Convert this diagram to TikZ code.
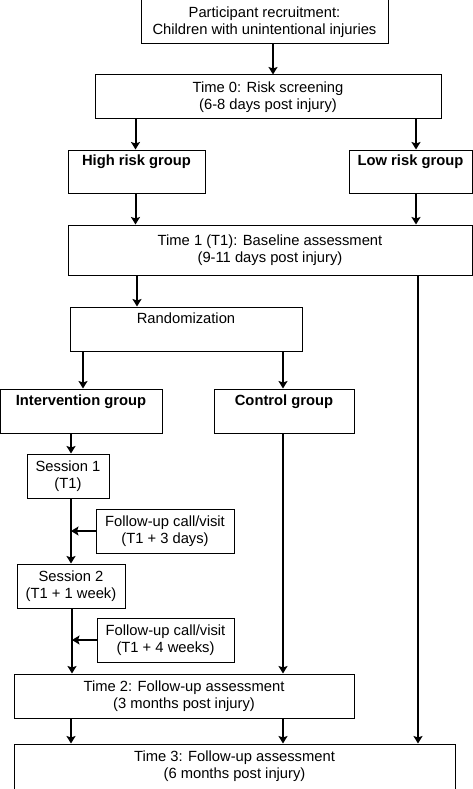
\documentclass[tikz,border=0pt]{standalone}
\usepackage{fontspec}
\setmainfont{Liberation Sans}
\usetikzlibrary{arrows.meta}
\begin{document}
\begin{tikzpicture}[x=1pt,y=-1pt,
  box/.style={draw,line width=1pt,inner sep=0pt,align=center,
    font=\fontsize{14.75}{17}\selectfont},
  arr/.style={line width=2pt,-{Stealth[length=7.5pt,width=9pt,inset=1.5pt]}}]
\useasboundingbox (0,0) rectangle (473,789);
\node[box,minimum width=247pt,minimum height=44pt] (rec) at (264.5,22) {Participant recruitment:\\Children with unintentional injuries};
\node[box,minimum width=346pt,minimum height=44pt] (t0) at (268,97) {Time 0: Risk screening\\(6-8 days post injury)};
\node[box,minimum width=137pt,minimum height=43pt] (high) at (136.5,171.5) {\textbf{High risk group}\\\strut};
\node[box,minimum width=123pt,minimum height=43pt] (low) at (410.5,171.5) {\textbf{Low risk group}\\\strut};
\node[box,minimum width=404pt,minimum height=50pt] (t1) at (270,250) {Time 1 (T1): Baseline assessment\\(9-11 days post injury)};
\node[box,minimum width=232pt,minimum height=44pt] (rand) at (186,329) {Randomization\\\strut};
\node[box,minimum width=162pt,minimum height=44pt] (int) at (81,411) {\textbf{Intervention group}\\\strut};
\node[box,minimum width=140pt,minimum height=44pt] (ctl) at (284,411) {\textbf{Control group}\\\strut};
\node[box,minimum width=82pt,minimum height=44pt] (s1) at (68,476) {Session 1\\(T1)};
\node[box,minimum width=138pt,minimum height=44pt] (f1) at (165,531) {Follow-up call/visit\\(T1 + 3 days)};
\node[box,minimum width=108pt,minimum height=44pt] (s2) at (71,586) {Session 2\\(T1 + 1 week)};
\node[box,minimum width=137pt,minimum height=44pt] (f2) at (165.5,640) {Follow-up call/visit\\(T1 + 4 weeks)};
\node[box,minimum width=340pt,minimum height=44pt] (t2) at (184,696) {Time 2: Follow-up assessment\\(3 months post injury)};
\node[box,minimum width=441pt,minimum height=45pt] (t3) at (234.5,766.5) {Time 3: Follow-up assessment\\(6 months post injury)};
% helper x positions
\coordinate (xa) at (273,0);
\coordinate (xb) at (135.5,0);
\coordinate (xc) at (416,0);
\coordinate (xd) at (137,0);
\coordinate (xe) at (418,0);
\coordinate (xf) at (83,0);
\coordinate (xg) at (283,0);
\coordinate (xh) at (71,0);
\coordinate (xi) at (72,0);
% arrows
\draw[arr] (rec.south -| xa) -- (t0.north -| xa);
\draw[arr] (t0.south -| xb) -- (high.north -| xb);
\draw[arr] (t0.south -| xc) -- (low.north -| xc);
\draw[arr] (high.south -| xb) -- (t1.north -| xb);
\draw[arr] (low.south -| xc) -- (t1.north -| xc);
\draw[arr] (t1.south -| xd) -- (rand.north -| xd);
\draw[arr] (rand.south -| xf) -- (int.north -| xf);
\draw[arr] (rand.south -| xg) -- (ctl.north -| xg);
\draw[arr] (int.south -| xh) -- (s1.north -| xh);
\draw[arr] (s1.south -| xh) -- (s2.north -| xh);
\draw[arr] (f1.west) -- (f1.west -| xh);
\draw[arr] (s2.south -| xi) -- (t2.north -| xi);
\draw[arr] (f2.west) -- (f2.west -| xi);
\draw[arr] (ctl.south -| xg) -- (t2.north -| xg);
\draw[arr] (t2.south -| xh) -- (t3.north -| xh);
\draw[arr] (t2.south -| xg) -- (t3.north -| xg);
\draw[arr] (t1.south -| xe) -- (t3.north -| xe);
\end{tikzpicture}
\end{document}
